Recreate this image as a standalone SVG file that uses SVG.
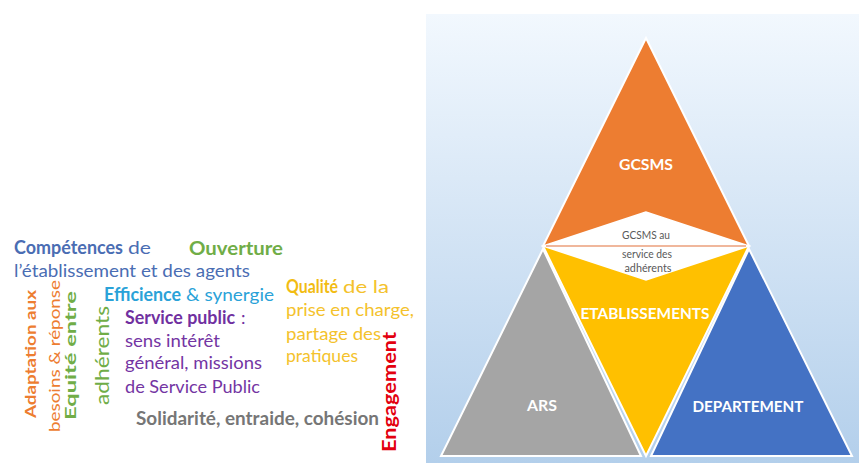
<svg xmlns="http://www.w3.org/2000/svg" width="859" height="463" viewBox="0 0 859 463">
  <defs>
    <linearGradient id="panelGrad" x1="0" y1="0" x2="0" y2="1">
      <stop offset="0" stop-color="#F2F8FE"/>
      <stop offset="1" stop-color="#B3CFEB"/>
    </linearGradient>
  </defs>
  <style>
    text { font-family: Lato, "Liberation Sans", sans-serif; }
    .b { font-weight: bold; }
    .h { font-size: 18px; }
    .tri { stroke: #FFFFFF; stroke-width: 2; stroke-linejoin: miter; }
    .lbl { font-size: 15px; font-weight: bold; fill: #FFFFFF; text-anchor: middle; }
    .small { font-size: 10.5px; fill: #595959; text-anchor: middle; }
  </style>
  <rect x="0" y="0" width="859" height="463" fill="#FFFFFF"/>

  <!-- Right panel -->
  <rect id="panel" x="426" y="14" width="433" height="449" fill="url(#panelGrad)"/>

  <g id="node-ars">
    <polygon class="tri" points="543,249 441,456 641,456" fill="#A5A5A5"/>
    <text class="lbl" x="542" y="411" textLength="30" lengthAdjust="spacingAndGlyphs">ARS</text>
  </g>
  <g id="node-departement">
    <polygon class="tri" points="749,249 651,456 852,456" fill="#4472C4"/>
    <text class="lbl" x="748" y="412" textLength="111" lengthAdjust="spacingAndGlyphs">DEPARTEMENT</text>
  </g>
  <g id="node-etablissements">
    <polygon class="tri" points="543,246 749,246 646,456" fill="#FFC000"/>
    <text class="lbl" x="645" y="319" textLength="129" lengthAdjust="spacingAndGlyphs">ETABLISSEMENTS</text>
  </g>
  <g id="node-gcsms">
    <polygon class="tri" points="646,38 543,246 749,246" fill="#ED7D31"/>
    <text class="lbl" x="646" y="170" textLength="54" lengthAdjust="spacingAndGlyphs">GCSMS</text>
  </g>
  <g id="node-gcsms-service">
    <polygon points="646,212 543,246 646,280 749,246" fill="#FFFFFF" stroke="#FFFFFF" stroke-width="1.5"/>
    <line x1="546" y1="246" x2="746" y2="246" stroke="#E2703A" stroke-width="1.2"/>
    <text class="small" x="646" y="239" textLength="48" lengthAdjust="spacingAndGlyphs">GCSMS  au</text>
    <text class="small" x="647" y="258" textLength="50" lengthAdjust="spacingAndGlyphs">service des</text>
    <text class="small" x="648" y="272" textLength="47" lengthAdjust="spacingAndGlyphs">adhérents</text>
  </g>
  <g id="connectors"/>

  <!-- Word cloud -->
  <g id="word-competences">
    <text class="h b" x="14" y="254" fill="#4A6DB3" textLength="109" lengthAdjust="spacingAndGlyphs">Compétences</text>
    <text class="h" x="128" y="254" fill="#4A6DB3" textLength="23" lengthAdjust="spacingAndGlyphs">de</text>
    <text class="h" x="14" y="277" fill="#4A6DB3" textLength="236" lengthAdjust="spacingAndGlyphs">l’établissement et des agents</text>
  </g>
  <g id="word-ouverture">
    <text class="h b" x="189" y="255" fill="#70AD47" textLength="94" lengthAdjust="spacingAndGlyphs">Ouverture</text>
  </g>
  <g id="word-efficience">
    <text class="h b" x="104" y="301" fill="#2AA2D8" textLength="77" lengthAdjust="spacingAndGlyphs">Efficience</text>
    <text class="h" x="186" y="301" fill="#2AA2D8" textLength="88" lengthAdjust="spacingAndGlyphs">&amp; synergie</text>
  </g>
  <g id="word-service-public">
    <text class="h b" x="125" y="324" fill="#7030A0" textLength="110" lengthAdjust="spacingAndGlyphs">Service public</text>
    <text class="h" x="241" y="324" fill="#7030A0">:</text>
    <text class="h" x="125" y="347" fill="#7435A3" textLength="95" lengthAdjust="spacingAndGlyphs">sens intérêt</text>
    <text class="h" x="125" y="369" fill="#7435A3" textLength="137" lengthAdjust="spacingAndGlyphs">général, missions</text>
    <text class="h" x="125" y="393" fill="#7435A3" textLength="135" lengthAdjust="spacingAndGlyphs">de Service Public</text>
  </g>
  <g id="word-qualite">
    <text class="h b" x="286" y="293" fill="#F2BC12" textLength="52" lengthAdjust="spacingAndGlyphs">Qualité</text>
    <text class="h" x="343" y="293" fill="#F4C22C" textLength="46" lengthAdjust="spacingAndGlyphs">de la</text>
    <text class="h" x="286" y="316" fill="#F4C22C" textLength="128" lengthAdjust="spacingAndGlyphs">prise en charge,</text>
    <text class="h" x="286" y="340" fill="#F4C22C" textLength="95" lengthAdjust="spacingAndGlyphs">partage des</text>
    <text class="h" x="286" y="362" fill="#F4C22C" textLength="72" lengthAdjust="spacingAndGlyphs">pratiques</text>
  </g>
  <g id="word-solidarite">
    <text class="h b" x="136" y="425" fill="#767676" textLength="243" lengthAdjust="spacingAndGlyphs">Solidarité, entraide, cohésion</text>
  </g>
  <g id="word-engagement">
    <text class="b" font-size="18" transform="translate(396,452) rotate(-90)" fill="#E3000F" textLength="120" lengthAdjust="spacingAndGlyphs">Engagement</text>
  </g>
  <g id="word-adaptation">
    <text class="b" font-size="15" transform="translate(36,418) rotate(-90)" fill="#ED7D31" textLength="128" lengthAdjust="spacingAndGlyphs">Adaptation aux</text>
    <text font-size="15" transform="translate(60,432) rotate(-90)" fill="#ED7D31" textLength="152" lengthAdjust="spacingAndGlyphs">besoins &amp; réponse</text>
  </g>
  <g id="word-equite">
    <text class="b" font-size="16" transform="translate(76,420) rotate(-90)" fill="#70AD47" textLength="129" lengthAdjust="spacingAndGlyphs">Equité entre</text>
    <text font-size="19" transform="translate(109,405) rotate(-90)" fill="#70AD47" textLength="99" lengthAdjust="spacingAndGlyphs">adhérents</text>
  </g>
</svg>
